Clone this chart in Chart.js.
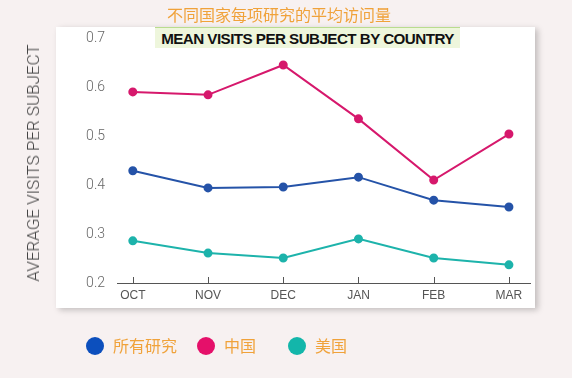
<!DOCTYPE html>
<html>
<head>
<meta charset="utf-8">
<script src="https://cdn.jsdelivr.net/npm/chart.js@4.4.1/dist/chart.umd.min.js"></script>
<style>
  html, body { margin: 0; padding: 0; background: #f7f1f1; }
  #wrap { position: relative; width: 572px; height: 378px; overflow: hidden; font-family: "Liberation Sans", Arial, sans-serif; }
  #panel { position: absolute; left: 56px; top: 27px; width: 479px; height: 281px; background: #fff; box-shadow: 3px 2px 6px rgba(0,0,0,0.22); }
  #cnTitle { position: absolute; left: 0; width: 558px; top: 3px; text-align: center; font-family: "Noto Sans CJK SC", sans-serif; font-size: 16px; color: #f0a23a; line-height: 22px; }
  #enTitle { position: absolute; left: 155px; top: 27px; width: 305px; height: 20px; background: #eef6dc; border-top: 1px solid #b9dc8e; text-align: center; font-weight: bold; font-size: 15.2px; letter-spacing: -0.55px; line-height: 22px; color: #111; }
  #yTitle { position: absolute; left: 33px; top: 163px; transform: translate(-50%, -50%) rotate(-90deg); white-space: nowrap; font-family: Roboto, sans-serif; font-weight: 300; font-size: 17px; color: #444; letter-spacing: 0px; }
  canvas { position: absolute; left: 0; top: 0; }
  .leg { position: absolute; top: 337px; height: 18px; }
  .dot { position: absolute; left: 0; top: 0; width: 18px; height: 18px; border-radius: 50%; }
  .lab { position: absolute; left: 27px; top: -3px; white-space: nowrap; font-family: "Noto Sans CJK SC", sans-serif; font-size: 16px; color: #f0a23a; line-height: 22px; }
</style>
</head>
<body>
<div id="wrap">
  <div id="panel"></div>
  <canvas id="chart" width="572" height="378"></canvas>
  <div id="cnTitle">不同国家每项研究的平均访问量</div>
  <div id="enTitle">MEAN VISITS PER SUBJECT BY COUNTRY</div>
  <div id="yTitle">AVERAGE VISITS PER SUBJECT</div>
  <div id="legend"></div>
</div>
<script>
// data
const months = ['OCT', 'NOV', 'DEC', 'JAN', 'FEB', 'MAR'];
const allStudies = [0.429, 0.394, 0.396, 0.416, 0.369, 0.355];
const china = [0.590, 0.584, 0.645, 0.535, 0.410, 0.504];
const usa = [0.286, 0.261, 0.251, 0.290, 0.251, 0.237];
const yTicks = [0.2, 0.3, 0.4, 0.5, 0.6, 0.7];

const seriesNames = ['所有研究', '中国', '美国'];
const lineColors = ['#2553a8', '#d6186c', '#1db3ab'];
const legendColors = ['#0c4fbd', '#e5106a', '#13b6aa'];

const toPoints = (arr) => arr.map((v, i) => ({ x: i, y: v }));

// little upward tick marks sitting on the x axis line
const upTicks = {
  id: 'upTicks',
  afterDraw(chart) {
    const ctx = chart.ctx;
    const xs = chart.scales.x;
    const bottom = chart.chartArea.bottom;
    ctx.save();
    ctx.strokeStyle = '#555';
    ctx.lineWidth = 1;
    months.forEach((m, i) => {
      const px = Math.round(xs.getPixelForValue(i)) + 0.5;
      ctx.beginPath();
      ctx.moveTo(px, bottom);
      ctx.lineTo(px, bottom - 6);
      ctx.stroke();
    });
    ctx.restore();
  }
};

const datasets = [allStudies, china, usa].map((arr, k) => ({
  label: seriesNames[k],
  data: toPoints(arr),
  borderColor: lineColors[k],
  backgroundColor: lineColors[k],
  pointBackgroundColor: lineColors[k],
  pointBorderColor: lineColors[k],
  borderWidth: 2,
  pointRadius: 3.5,
  tension: 0
}));

new Chart(document.getElementById('chart'), {
  type: 'line',
  data: { datasets },
  options: {
    responsive: false,
    animation: false,
    layout: { padding: { top: 38, right: 42, bottom: 75, left: 0 } },
    plugins: { legend: { display: false }, tooltip: { enabled: false } },
    scales: {
      x: {
        type: 'linear',
        min: -0.21,
        max: 5.28,
        afterFit: (s) => { s.height = 20; },
        afterBuildTicks: (s) => { s.ticks = months.map((m, i) => ({ value: i })); },
        ticks: {
          callback: (v) => months[v],
          color: '#555',
          font: { size: 12, family: 'Liberation Sans' },
          padding: 5,
          autoSkip: false,
          maxRotation: 0
        },
        grid: { display: false, drawTicks: false },
        border: { display: true, color: '#555', width: 1 }
      },
      y: {
        min: 0.2,
        max: 0.7,
        afterFit: (s) => { s.width = 117; },
        afterBuildTicks: (s) => { s.ticks = yTicks.map(v => ({ value: v })); },
        ticks: {
          callback: (v) => v.toFixed(1),
          color: '#666',
          font: { size: 14, family: 'Roboto', weight: '300' },
          padding: 12
        },
        grid: { display: false, drawTicks: false },
        border: { display: false }
      }
    }
  },
  plugins: [upTicks]
});

// legend row
const legendLeft = [86, 197, 288];
const legend = document.getElementById('legend');
seriesNames.forEach((name, k) => {
  const item = document.createElement('div');
  item.className = 'leg';
  item.style.left = legendLeft[k] + 'px';
  item.innerHTML = '<div class="dot" style="background:' + legendColors[k] + '"></div><div class="lab">' + name + '</div>';
  legend.appendChild(item);
});
</script>
</body>
</html>
